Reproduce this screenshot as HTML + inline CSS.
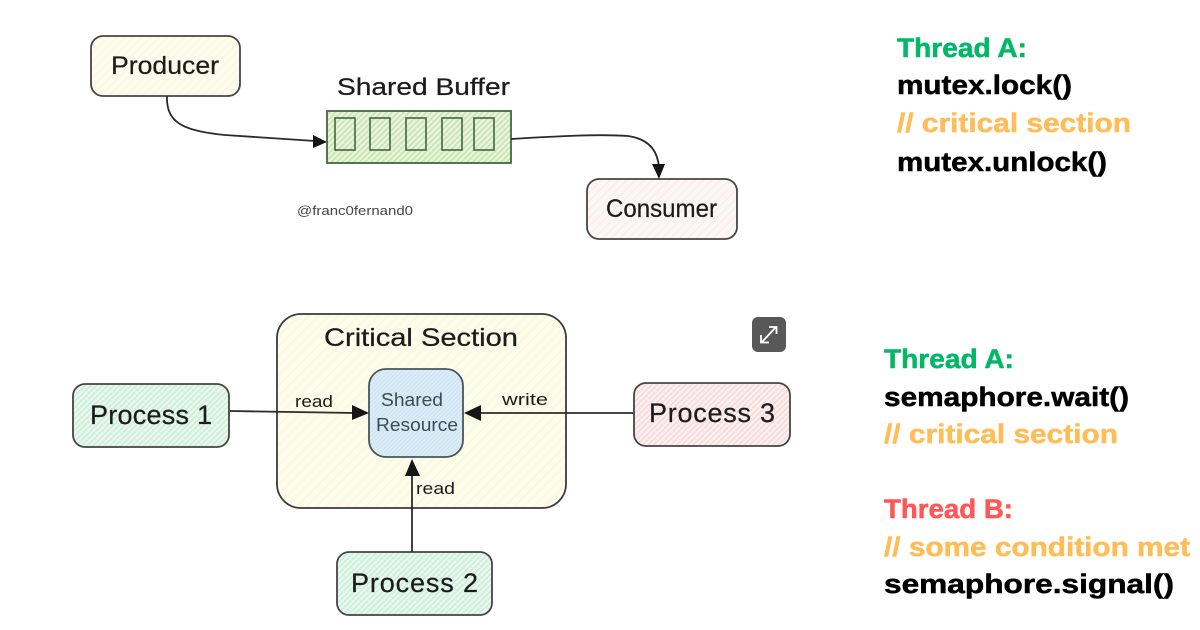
<!DOCTYPE html>
<html><head><meta charset="utf-8"><style>
html,body{margin:0;padding:0;background:#fff;width:1200px;height:630px;overflow:hidden}
svg{display:block}
.h{font-family:"Liberation Sans","DejaVu Sans",sans-serif;fill:#1c1c1c;stroke:#1c1c1c;stroke-width:.25}
.b{font-family:"Liberation Sans","DejaVu Sans",sans-serif;font-weight:700;font-size:27px;stroke-width:.5}
</style></head><body>
<svg width="1200" height="630" viewBox="0 0 1200 630" xmlns="http://www.w3.org/2000/svg">
<defs>
<filter id="soft" x="-2%" y="-2%" width="104%" height="104%"><feGaussianBlur stdDeviation="0.3"/></filter>
<pattern id="py" width="6" height="6" patternUnits="userSpaceOnUse" patternTransform="rotate(-45)"><rect width="6" height="6" fill="#fdfcec"/><rect width="6" height="1.5" fill="#faf7e2"/></pattern>
<pattern id="pc" width="7" height="7" patternUnits="userSpaceOnUse" patternTransform="rotate(-45)"><rect width="7" height="7" fill="#fdfbea"/><rect width="7" height="1.5" fill="#fbf7df"/></pattern>
<pattern id="pg" width="4" height="4" patternUnits="userSpaceOnUse" patternTransform="rotate(-45)"><rect width="4" height="4" fill="#e8f5dc"/><rect width="4" height="1.6" fill="#c8e1b0"/></pattern>
<pattern id="pm" width="4" height="4" patternUnits="userSpaceOnUse" patternTransform="rotate(-45)"><rect width="4" height="4" fill="#ebf8f0"/><rect width="4" height="1.8" fill="#cdeeda"/></pattern>
<pattern id="pr" width="4" height="4" patternUnits="userSpaceOnUse" patternTransform="rotate(-45)"><rect width="4" height="4" fill="#fdf2f2"/><rect width="4" height="1.8" fill="#f9dadb"/></pattern>
<pattern id="pp" width="6" height="6" patternUnits="userSpaceOnUse" patternTransform="rotate(-45)"><rect width="6" height="6" fill="#fcf6f4"/><rect width="6" height="1.5" fill="#f9eeeb"/></pattern>
<pattern id="pb" width="3" height="3" patternUnits="userSpaceOnUse" patternTransform="rotate(45)"><rect width="3" height="3" fill="#dcedf7"/><rect width="1.4" height="3" fill="#cfe5f3"/></pattern>
</defs>
<rect width="1200" height="630" fill="#fff"/>

<g filter="url(#soft)">
<g stroke="#444" stroke-width="1.8">
<rect x="91" y="36" width="149" height="60" rx="12" fill="url(#py)"/>
<rect x="587" y="179" width="150" height="60" rx="12" fill="url(#pp)"/>
<rect x="327" y="111" width="184" height="52" fill="url(#pg)" stroke="#47663f"/>
<g fill="none" stroke="#47663f" stroke-width="1.6">
<rect x="335" y="118" width="20" height="32"/>
<rect x="370" y="118" width="20" height="32"/>
<rect x="406" y="118" width="20" height="32"/>
<rect x="442" y="118" width="20" height="32"/>
<rect x="474" y="118" width="20" height="32"/>
</g>
<rect x="277" y="314" width="289" height="194" rx="24" fill="url(#pc)" stroke="#3a3a3a"/>
<rect x="369" y="369" width="94" height="88" rx="17" fill="url(#pb)" stroke="#46565d"/>
<rect x="73" y="384" width="156" height="63" rx="12" fill="url(#pm)"/>
<rect x="634" y="383" width="156" height="63" rx="12" fill="url(#pr)"/>
<rect x="337" y="552" width="155" height="63" rx="12" fill="url(#pm)"/>
</g>

<g fill="none" stroke="#2c2c2c" stroke-width="1.8">
<path d="M167 96 C166 122 182 131 225 135 L315 141"/>
<path d="M511 139 C560 136 600 134 628 136 C650 139 658 152 659 168"/>
<path d="M230 411 L356 413"/>
<path d="M633 413 L478 413"/>
<path d="M412 552 L412 472"/>
</g>
<g fill="#141414">
<polygon points="327,142 313,135 313,148"/>
<polygon points="659,179 652,164 665,164"/>
<polygon points="369,413 352,405 352,420"/>
<polygon points="464,413 481,405 481,421"/>
<polygon points="412,459 405,476 420,476"/>
</g>

<g class="h">
<text x="111" y="74" font-size="25" textLength="108" lengthAdjust="spacingAndGlyphs">Producer</text>
<text x="337" y="95" font-size="24" textLength="173" lengthAdjust="spacingAndGlyphs">Shared Buffer</text>
<text x="606" y="217" font-size="25" textLength="111" lengthAdjust="spacingAndGlyphs">Consumer</text>
<text x="297" y="215" font-size="13" textLength="116" lengthAdjust="spacingAndGlyphs" style="fill:#444;stroke:none">@franc0fernand0</text>
<text x="324" y="346" font-size="25" textLength="194" lengthAdjust="spacingAndGlyphs">Critical Section</text>
<text x="381" y="406" font-size="18" textLength="62" lengthAdjust="spacingAndGlyphs" style="fill:#3c4b52;stroke:none">Shared</text>
<text x="376" y="431" font-size="18" textLength="82" lengthAdjust="spacingAndGlyphs" style="fill:#3c4b52;stroke:none">Resource</text>
<text x="295" y="407" font-size="17" textLength="38" lengthAdjust="spacingAndGlyphs" style="stroke:none">read</text>
<text x="502" y="405" font-size="17" textLength="46" lengthAdjust="spacingAndGlyphs" style="stroke:none">write</text>
<text x="416" y="494" font-size="17" textLength="39" lengthAdjust="spacingAndGlyphs" style="stroke:none">read</text>
<text x="90" y="424" font-size="27" textLength="122" lengthAdjust="spacing">Process 1</text>
<text x="649" y="422" font-size="27" textLength="126" lengthAdjust="spacing">Process 3</text>
<text x="351" y="592" font-size="27" textLength="127" lengthAdjust="spacing">Process 2</text>
</g>

<rect x="752" y="317" width="34" height="35" rx="6" fill="#595959"/>
<g stroke="#fff" stroke-width="1.8" fill="none">
<path d="M762 342 L776 327"/><path d="M769 327 H776.5 V334"/><path d="M761 335 V342.5 H769"/>
</g>

<g class="b">
<text x="897" y="57" fill="#00b865" stroke="#00b865" textLength="130" lengthAdjust="spacingAndGlyphs">Thread A:</text>
<text x="897" y="94" fill="#050505" stroke="#050505" textLength="175" lengthAdjust="spacingAndGlyphs">mutex.lock()</text>
<text x="897" y="132" fill="#ffbd59" stroke="#ffbd59" textLength="234" lengthAdjust="spacingAndGlyphs">// critical section</text>
<text x="897" y="171" fill="#050505" stroke="#050505" textLength="210" lengthAdjust="spacingAndGlyphs">mutex.unlock()</text>
<text x="884" y="368" fill="#00b865" stroke="#00b865" textLength="130" lengthAdjust="spacingAndGlyphs">Thread A:</text>
<text x="884" y="406" fill="#050505" stroke="#050505" textLength="245" lengthAdjust="spacingAndGlyphs">semaphore.wait()</text>
<text x="884" y="443" fill="#ffbd59" stroke="#ffbd59" textLength="234" lengthAdjust="spacingAndGlyphs">// critical section</text>
<text x="884" y="518" fill="#ff5757" stroke="#ff5757" textLength="129" lengthAdjust="spacingAndGlyphs">Thread B:</text>
<text x="884" y="556" fill="#ffbd59" stroke="#ffbd59" textLength="306" lengthAdjust="spacingAndGlyphs">// some condition met</text>
<text x="884" y="593" fill="#050505" stroke="#050505" textLength="290" lengthAdjust="spacingAndGlyphs">semaphore.signal()</text>
</g>
</g>
</svg>
</body></html>
